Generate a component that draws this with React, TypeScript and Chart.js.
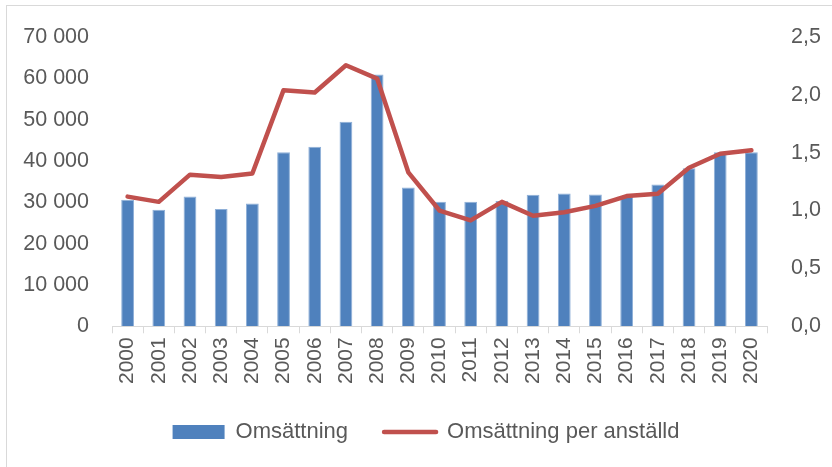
import React, { useEffect, useRef } from "react";
import { Chart, registerables } from "chart.js";

Chart.register(...registerables);

const years = ["2000","2001","2002","2003","2004","2005","2006","2007","2008","2009","2010","2011","2012","2013","2014","2015","2016","2017","2018","2019","2020"];
const omsattning = [30600, 28200, 31400, 28400, 29700, 42100, 43400, 49500, 60900, 33600, 30100, 30100, 30300, 31800, 32100, 31900, 31300, 34300, 38200, 42100, 42100];
const perAnstalld = [1.12, 1.075, 1.31, 1.29, 1.32, 2.04, 2.02, 2.255, 2.14, 1.33, 1.0, 0.915, 1.075, 0.955, 0.985, 1.04, 1.125, 1.145, 1.37, 1.49, 1.52];
const leftTicks = [0, 10000, 20000, 30000, 40000, 50000, 60000, 70000];
const rightTicks = [0, 0.5, 1.0, 1.5, 2.0, 2.5];

const FONT = "'Liberation Sans', Arial, sans-serif";
const TEXT = "#595959";

const legendShift = {
  id: "legendShift",
  afterLayout(chart: any) {
    const l = chart.legend;
    if (l) {
      l.left += 10;
      l.right += 10;
    }
  },
};

export default function App() {
  const ref = useRef<HTMLCanvasElement | null>(null);
  useEffect(() => {
    if (!ref.current) return;
    const chart = new Chart(ref.current, {
      type: "bar",
      plugins: [legendShift],
      data: {
        labels: years,
        datasets: [
          {
            type: "bar",
            label: "Omsättning",
            data: omsattning,
            backgroundColor: "#4F81BD",
            borderColor: "#8fb0d8",
            borderWidth: 1,
            barPercentage: 0.41,
            categoryPercentage: 1,
            yAxisID: "y",
            order: 1,
          },
          {
            type: "line",
            label: "Omsättning per anställd",
            data: perAnstalld,
            borderColor: "#C0504D",
            backgroundColor: "#C0504D",
            borderWidth: 4.5,
            pointRadius: 0,
            tension: 0,
            borderCapStyle: "round",
            borderJoinStyle: "round",
            yAxisID: "y1",
            order: 0,
          },
        ],
      },
      options: {
        animation: false,
        responsive: false,
        maintainAspectRatio: false,
        layout: { padding: { left: 0, right: 0, top: 33, bottom: 14 } },
        plugins: {
          tooltip: { enabled: false },
          legend: {
            position: "bottom",
            labels: {
              font: { family: FONT, size: 22 },
              color: TEXT,
              usePointStyle: true,
              pointStyleWidth: 52,
              boxHeight: 14,
              padding: 36,
              sort: (a: any, b: any) => a.datasetIndex - b.datasetIndex,
              generateLabels: (c: any) => {
                const items = Chart.defaults.plugins.legend.labels.generateLabels(c);
                items.forEach((it: any) => {
                  if (it.datasetIndex === 0) {
                    it.pointStyle = "rect";
                    it.lineWidth = 0;
                  } else {
                    it.pointStyle = "line";
                    it.lineWidth = 4.5;
                    it.strokeStyle = "#C0504D";
                    it.lineCap = "round";
                  }
                });
                return items;
              },
            },
          },
        },
        scales: {
          x: {
            offset: true,
            afterFit: (s: any) => { s.height -= 3; },
            grid: {
              offset: true,
              drawOnChartArea: false,
              drawTicks: true,
              tickLength: 7,
              color: "#d9d9d9",
            },
            border: { display: true, color: "#d9d9d9", width: 1 },
            ticks: {
              font: { family: FONT, size: 21 },
              color: TEXT,
              minRotation: 90,
              maxRotation: 90,
              autoSkip: false,
              padding: 4,
            },
          },
          y: {
            position: "left",
            min: 0,
            max: 70000,
            afterBuildTicks: (s: any) => { s.ticks = leftTicks.map((v) => ({ value: v })); },
            afterFit: (s: any) => { s.width = 112; },
            grid: { display: false, drawTicks: false },
            border: { display: false },
            ticks: {
              font: { family: FONT, size: 21.5 },
              color: TEXT,
              padding: 23,
              callback: (v: any) => String(v).replace(/\B(?=(\d{3})+(?!\d))/g, " "),
            },
          },
          y1: {
            position: "right",
            min: 0,
            max: 2.5,
            afterBuildTicks: (s: any) => { s.ticks = rightTicks.map((v) => ({ value: v })); },
            afterFit: (s: any) => { s.width = 65; },
            grid: { display: false, drawTicks: false },
            border: { display: false },
            ticks: {
              font: { family: FONT, size: 21.5 },
              color: TEXT,
              padding: 24,
              callback: (v: any) => Number(v).toFixed(1).replace(".", ","),
            },
          },
        },
      },
    });
    return () => chart.destroy();
  }, []);
  return (
    <div style={{ position: "fixed", left: 0, top: 0, width: 832, height: 467, background: "#fff", overflow: "hidden" }}>
      <div style={{ position: "absolute", left: 6, top: 5, width: 900, height: 600, border: "1px solid #d9d9d9" }} />
      <canvas ref={ref} width={832} height={467} style={{ position: "absolute", left: 0, top: 0 }} />
    </div>
  );
}
